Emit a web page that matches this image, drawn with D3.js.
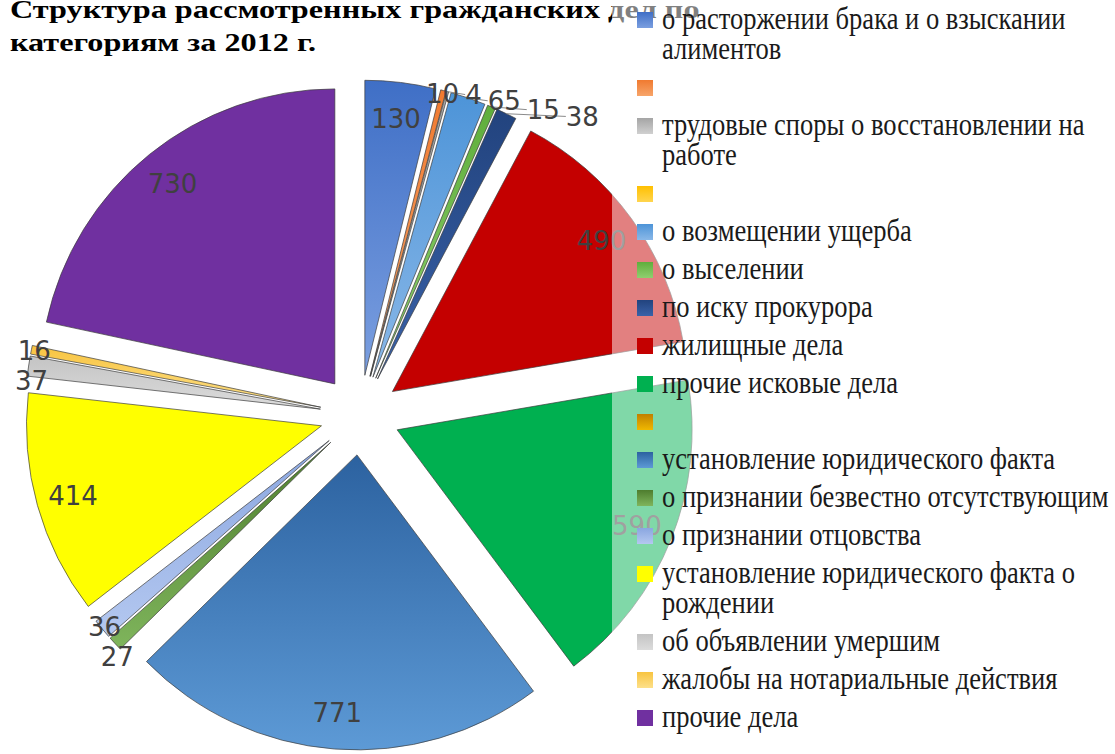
<!DOCTYPE html>
<html>
<head>
<meta charset="utf-8">
<script src="https://cdn.jsdelivr.net/npm/d3@7"></script>
<style>
  html, body { margin: 0; padding: 0; background: #fff; }
  svg { display: block; }
</style>
</head>
<body>
<svg id="chart" width="1115" height="754"></svg>
<script>
// categories in legend order (empty names are unnamed rows of the source table)
const categories = [
  "о расторжении брака и о взыскании алиментов",
  "",
  "трудовые споры о восстановлении на работе",
  "",
  "о возмещении ущерба",
  "о выселении",
  "по иску прокурора",
  "жилищные дела",
  "прочие исковые дела",
  "",
  "установление юридического факта",
  "о признании безвестно отсутствующим",
  "о признании отцовства",
  "установление юридического факта о рождении",
  "об объявлении умершим",
  "жалобы на нотариальные действия",
  "прочие дела"
];
const values = [130, 10, 4, 0, 65, 15, 38, 490, 590, 0, 771, 27, 36, 414, 37, 16, 730];
const titleLines = ["Структура рассмотренных гражданских дел по", "категориям за 2012 г."];

// slice colours, top -> bottom of the gradient
const colors = [
  ["#3f6fc6", "#7b9fe0"], ["#f07a30", "#f7a56a"], ["#a5a5a5", "#d0d0d0"], ["#ffc000", "#ffd54f"],
  ["#4d94d8", "#8ab8e8"], ["#5fae3c", "#8fcf6f"], ["#22437e", "#3a62a8"], ["#c40000", "#c40000"],
  ["#00b050", "#00b050"], ["#c08000", "#f0b800"], ["#2c62a0", "#5d9ad6"], ["#4e7d2e", "#7fb55c"],
  ["#8aa6e0", "#b4c8f0"], ["#ffff00", "#ffff00"], ["#c4c4c4", "#dcdcdc"], ["#f8c440", "#fde08a"],
  ["#7030a0", "#7030a0"]
];

const width = 1115, height = 754;
const cx = 360, cy = 415, radius = 295, explode = 40;
const labelSize = 26;

const svg = d3.select("#chart");
const defs = svg.append("defs");
colors.forEach((c, i) => {
  const g = defs.append("linearGradient")
      .attr("id", "grad-" + i)
      .attr("x1", 0).attr("y1", 0).attr("x2", 0).attr("y2", 1);
  g.append("stop").attr("offset", "0%").attr("stop-color", c[0]);
  g.append("stop").attr("offset", "100%").attr("stop-color", c[1]);
});

// title (sits under the legend's translucent box), wide bold serif
svg.append("g")
    .selectAll("text")
    .data(titleLines)
    .join("text")
    .attr("transform", (d, i) => `translate(10,${18 + i * 33}) scale(1.24,1)`)
    .style("font", "bold 26px 'Liberation Serif', serif")
    .style("fill", "#000")
    .text(d => d);

const pie = d3.pie().sort(null).value(d => d.value);
const arcs = pie(values.map((v, i) => ({ name: categories[i], value: v, i })));
const arc = d3.arc().innerRadius(0).outerRadius(radius);
const mid = d => (d.startAngle + d.endAngle) / 2;
const dir = a => [Math.sin(a), -Math.cos(a)];
const apex = d => dir(mid(d)).map(v => v * explode);

const shown = arcs.filter(d => d.value > 0);
const pieG = svg.append("g").attr("transform", `translate(${cx},${cy})`);

pieG.append("g")
    .selectAll("path")
    .data(shown)
    .join("path")
    .attr("transform", d => `translate(${apex(d)})`)
    .attr("d", arc)
    .attr("fill", d => `url(#grad-${d.data.i})`)
    .attr("stroke", "#3c3c3c")
    .attr("stroke-width", 0.7);

// label placement: big slices inside, small ones outside pushed apart
const labels = shown.map(d => {
  const a = mid(d), [ax, ay] = apex(d), [ux, uy] = dir(a);
  const inside = d.endAngle - d.startAngle > 0.2;
  const rr = inside ? radius * 0.875 : radius - 3;
  return {
    d, a, inside,
    w: String(d.value).length * 0.636 * labelSize,
    h: labelSize,
    x: ax + ux * rr, y: ay + uy * rr,
    ex: ax + ux * radius, ey: ay + uy * radius
  };
});
const pad = 6;
function push(list, sign) {
  let prev = null;
  list.forEach(l => {
    if (prev) {
      if (Math.abs(Math.sin(l.a)) < 0.7) {
        // near top/bottom: slide sideways
        const sx = Math.cos(l.a) > 0 ? sign : -sign;
        if (Math.abs(l.y - prev.y) < (l.h + prev.h) / 2) {
          const nx = prev.x + sx * ((prev.w + l.w) / 2 + pad);
          l.x = sx > 0 ? Math.max(l.x, nx) : Math.min(l.x, nx);
        }
      } else if (Math.abs(l.x - prev.x) < (l.w + prev.w) / 2 + 2) {
        l.y = Math.max(l.y, prev.y + (prev.h + l.h) / 2 + 4);
      }
    }
    prev = l;
  });
}
const outer = labels.filter(l => !l.inside);
push(outer.filter(l => l.a < Math.PI), 1);
push(outer.filter(l => l.a >= Math.PI).reverse(), -1);

pieG.append("g")
    .attr("stroke", "#8a8a8a")
    .attr("stroke-width", 1)
    .selectAll("line")
    .data(outer.filter(l => Math.hypot(l.x - l.ex, l.y - l.ey) > l.w / 2 + 6))
    .join("line")
    .attr("x1", l => l.ex)
    .attr("y1", l => l.ey)
    .attr("x2", l => l.x + (l.x > l.ex ? -l.w / 2 : l.w / 2))
    .attr("y2", l => l.y);

pieG.append("g")
    .selectAll("text")
    .data(labels)
    .join("text")
    .attr("x", l => l.x)
    .attr("y", l => l.y)
    .attr("dy", "0.36em")
    .attr("text-anchor", "middle")
    .style("font", `${labelSize}px 'DejaVu Sans', sans-serif`)
    .style("fill", "#404040")
    .text(l => l.d.value);

// legend box: translucent white over the right side
const legendX = 612;
svg.append("rect")
    .attr("x", legendX).attr("y", 0)
    .attr("width", width - legendX).attr("height", height)
    .attr("fill", "#fff").attr("fill-opacity", 0.5);

// legend text is tall and narrow in the source: condense it horizontally
const squeeze = 0.83;
const maxW = 462;
const legend = svg.append("g");
let ly = 20;
categories.forEach((name, i) => {
  const item = legend.append("g");
  item.append("rect")
      .attr("x", 637).attr("y", ly - 8)
      .attr("width", 16).attr("height", 16)
      .attr("fill", `url(#grad-${i})`);
  const text = item.append("text")
      .attr("transform", `translate(662,${ly + 9}) scale(${squeeze},1)`)
      .style("font", "32px 'Liberation Serif', serif")
      .style("fill", "#1a1a1a");
  const words = name.split(" ").filter(w => w);
  let line = [], lines = 0;
  let tspan = text.append("tspan").attr("x", 0).attr("dy", 0);
  words.forEach(w => {
    line.push(w);
    tspan.text(line.join(" "));
    if (tspan.node().getComputedTextLength() * squeeze > maxW && line.length > 1) {
      line.pop();
      tspan.text(line.join(" "));
      line = [w];
      lines++;
      tspan = text.append("tspan").attr("x", 0).attr("dy", 30).text(w);
    }
  });
  ly += 38 + 30 * lines;
});
</script>
</body>
</html>
